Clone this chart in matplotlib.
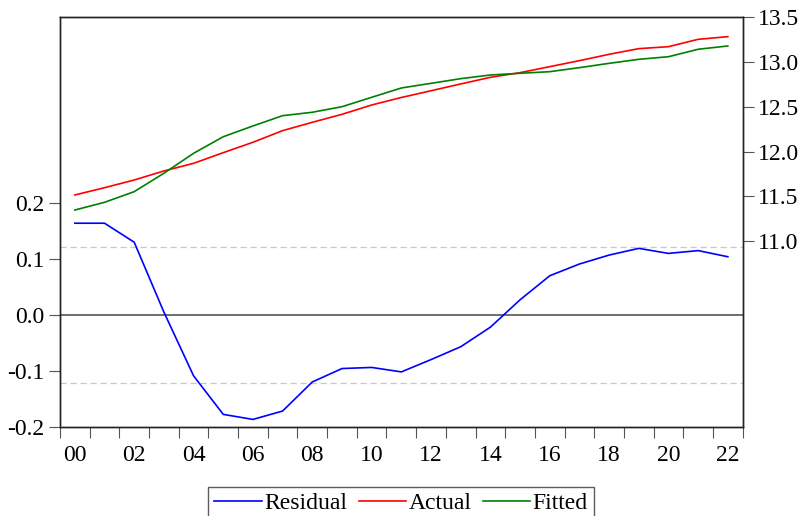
import matplotlib
matplotlib.use("Agg")
import matplotlib.pyplot as plt
import numpy as np

years = list(range(2000, 2023))
residual = [0.164, 0.164, 0.130, 0.005, -0.109, -0.178, -0.187, -0.172, -0.120, -0.096,
            -0.094, -0.102, -0.080, -0.057, -0.022, 0.027, 0.070, 0.091, 0.107, 0.119,
            0.110, 0.115, 0.104]
actual = [11.517, 11.598, 11.684, 11.785, 11.870, 11.989, 12.105, 12.235, 12.328, 12.417,
          12.521, 12.605, 12.680, 12.756, 12.830, 12.882, 12.949, 13.016, 13.087, 13.150,
          13.172, 13.254, 13.284]
fitted = [11.349, 11.435, 11.554, 11.759, 11.982, 12.167, 12.287, 12.402, 12.440, 12.502,
          12.607, 12.711, 12.763, 12.815, 12.856, 12.875, 12.893, 12.938, 12.986, 13.031,
          13.060, 13.143, 13.180]
se_band = 0.122
left_ticks = [-0.2, -0.1, 0.0, 0.1, 0.2]
right_ticks = [11.0, 11.5, 12.0, 12.5, 13.0, 13.5]
xlabels = ["00", "02", "04", "06", "08", "10", "12", "14", "16", "18", "20", "22"]

plt.rcParams['font.family'] = ['Liberation Serif', 'DejaVu Serif']
fs = 17

fig = plt.figure(figsize=(7.99, 5.16), dpi=100)
ax = fig.add_axes([0.0751, 0.1731, 0.9295 - 0.0751, 0.9665 - 0.1731])
ax2 = ax.twinx()

x = np.array(years) + 0.5

ax.axhline(0, color='#555555', lw=1.2, zorder=1)
ax.axhline(se_band, color='#c8c8c8', lw=0.9, ls=(0, (5, 3)), zorder=1)
ax.axhline(-se_band, color='#c8c8c8', lw=0.9, ls=(0, (5, 3)), zorder=1)
l1, = ax.plot(x, residual, color='#0000ff', lw=1.2, label='Residual')
l2, = ax2.plot(x, actual, color='#ff0000', lw=1.2, label='Actual')
l3, = ax2.plot(x, fitted, color='#008000', lw=1.2, label='Fitted')

ax.set_xlim(2000, 2023)
ax.set_ylim(-0.2, 0.5324)
ax2.set_ylim(8.931, 13.5)

ax.set_yticks(left_ticks)
ax.set_yticklabels([f"{v:.1f}" for v in left_ticks])
ax2.set_yticks(right_ticks)
ax2.set_yticklabels([f"{v:.1f}" for v in right_ticks])

ax.set_xticks(range(2000, 2024))
ax.set_xticklabels([])
ax.set_xticks([2000.5 + 2 * i for i in range(len(xlabels))], minor=True)
ax.set_xticklabels(xlabels, minor=True)
ax.tick_params(axis='x', which='minor', length=0, labelsize=fs, pad=13)
ax.tick_params(axis='x', which='major', length=8, color='#555555', direction='out')
ax.tick_params(axis='y', length=8, color='#555555', labelsize=fs, pad=3)
ax2.tick_params(axis='y', length=8, color='#555555', labelsize=fs, pad=3)

for a in (ax, ax2):
    for s in a.spines.values():
        s.set_color('#222222')
        s.set_linewidth(1.0)

leg = fig.legend(handles=[l1, l2, l3], loc='upper center', bbox_to_anchor=(0.502, 0.057),
                 ncol=3, fontsize=fs, frameon=True, fancybox=False, edgecolor='#333333',
                 handlelength=2.0, handletextpad=0.1, columnspacing=0.5, borderpad=0.25,
                 borderaxespad=0)
leg.get_frame().set_linewidth(1.0)

fig.savefig("out.png", dpi=100)
